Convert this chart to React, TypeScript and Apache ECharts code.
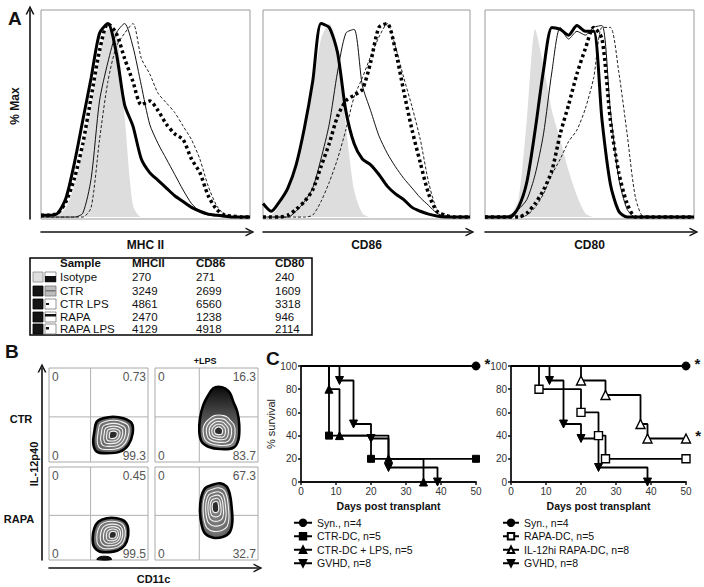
import React, { useEffect, useRef } from 'react';
import * as echarts from 'echarts';

const FONT = '"Liberation Sans", Arial, Helvetica, sans-serif';

// ---------------- Panel A: flow histograms ----------------
const histMarkers = ['MHC II', 'CD86', 'CD80'];
const histSamples = ['Isotype', 'CTR', 'CTR LPS', 'RAPA', 'RAPA LPS'];
const histChannel = [0, 4, 8, 12, 16, 20, 24, 28, 32, 36, 40, 44, 48, 52, 56, 60, 64, 68, 72, 76, 80, 84, 88, 92, 96, 100];

const mhcIsotype = [0, 0, 1, 5, 16, 35, 58, 82, 97, 96, 52, 6, 0, 0, 0, 0, 0, 0, 0, 0, 0, 0, 0, 0, 0, 0];
const mhcCtr = [0, 0, 0, 0, 0, 2, 20, 60, 80, 95, 100, 88, 68, 48, 38, 30, 22, 14, 7, 3, 1, 0.5, 0, 0, 0, 0];
const mhcCtrLps = [1, 1, 2, 8, 20, 38, 62, 86, 100, 95, 82, 70, 58, 60, 55, 48, 43, 40, 30, 23, 11, 4, 1, 0.5, 0, 0];
const mhcRapa = [1, 1, 2, 10, 28, 50, 72, 95, 100, 85, 58, 47, 30, 23, 19, 15, 11, 8, 5, 3, 1.5, 1, 0.5, 0, 0, 0];
const mhcRapaLps = [0, 0, 0, 0, 0, 0, 5, 40, 70, 88, 95, 100, 82, 74, 64, 59, 54, 47, 40, 30, 16, 6, 1, 0, 0, 0];

const cd86Isotype = [0, 1, 6, 14, 27, 45, 66, 92, 100, 88, 48, 14, 2, 0, 0, 0, 0, 0, 0, 0, 0, 0, 0, 0, 0, 0];
const cd86Ctr = [0, 0, 0, 0, 3, 8, 15, 30, 48, 75, 95, 97, 68, 55, 42, 33, 26, 20, 15, 10, 6, 2, 0.5, 0, 0, 0];
const cd86CtrLps = [0, 0, 0, 1, 4, 8, 14, 26, 38, 52, 60, 63, 66, 80, 98, 100, 86, 65, 45, 28, 12, 3, 1, 0, 0, 0];
const cd86Rapa = [7, 3, 8, 15, 27, 46, 70, 100, 98, 85, 55, 38, 30, 27, 22, 16, 12, 9, 5, 3, 1.5, 0.5, 0, 0, 0, 0];
const cd86RapaLps = [0, 0, 0, 0, 0, 0, 1, 8, 18, 30, 45, 62, 72, 83, 93, 100, 88, 72, 57, 40, 18, 4, 1, 0, 0, 0];

const cd80Isotype = [0, 0, 0, 1, 9, 50, 97, 78, 55, 40, 24, 11, 2, 0, 0, 0, 0, 0, 0, 0, 0, 0, 0, 0, 0, 0];
const cd80Ctr = [0, 0, 0, 1, 4, 9, 22, 43, 75, 98, 92, 96, 94, 98, 99, 55, 20, 4, 0, 0, 0, 0, 0, 0, 0, 0];
const cd80CtrLps = [0, 0, 0, 0, 0, 2, 7, 14, 24, 43, 58, 74, 87, 98, 92, 50, 23, 7, 0, 0, 0, 0, 0, 0, 0, 0];
const cd80Rapa = [0, 0, 0, 0, 5, 18, 45, 76, 98, 97, 94, 99, 96, 96, 50, 17, 3, 0, 0, 0, 0, 0, 0, 0, 0, 0];
const cd80RapaLps = [0, 0, 0, 0, 0, 1, 5, 12, 22, 30, 39, 45, 56, 72, 98, 98, 75, 43, 10, 0, 0, 0, 0, 0, 0, 0];

const histPanels = [
  [mhcIsotype, mhcCtr, mhcCtrLps, mhcRapa, mhcRapaLps],
  [cd86Isotype, cd86Ctr, cd86CtrLps, cd86Rapa, cd86RapaLps],
  [cd80Isotype, cd80Ctr, cd80CtrLps, cd80Rapa, cd80RapaLps],
];

// MFI table
const mfiMHCII = [270, 3249, 4861, 2470, 4129];
const mfiCD86 = [271, 2699, 6560, 1238, 4918];
const mfiCD80 = [240, 1609, 3318, 946, 2114];

// ---------------- Panel B: IL-12p40 vs CD11c contour plots ----------------
const bRowLabels = ['CTR', 'RAPA'];
const quadCtr = ['0', '0.73', '0', '99.3'];
const quadCtrLps = ['0', '16.3', '0', '83.7'];
const quadRapa = ['0', '0.45', '0', '99.5'];
const quadRapaLps = ['0', '67.3', '0', '32.7'];
const gateX = [42, 43, 42, 43];
const gateY = [48, 48, 48, 48];
const blobCtr = [[45.8, 32.2], [48.2, 42.9], [54.8, 46.5], [64.9, 48.2], [75, 46.5], [83.5, 41.2], [84.5, 30.5], [80.1, 18.1], [71.7, 11], [58.3, 9.3], [48.2, 11], [44.7, 19.9]];
const blobCtrLps = [[61.5, 80.1], [56.6, 78.4], [51.8, 71.3], [46.9, 60.6], [43.7, 46.5], [43, 32.2], [45.3, 21.6], [51.8, 16.3], [63.1, 13.8], [76, 15.2], [80.9, 23.4], [81.8, 39.4], [79.9, 53.5], [76, 64.2], [72.8, 73.1], [68, 78.4]];
const blobRapa = [[45.8, 34.1], [49.8, 41.2], [58.3, 44.9], [68.4, 44.9], [76.8, 41.2], [80.1, 32.3], [78.5, 19.7], [73.4, 12.6], [65, 9], [51.5, 9], [45.5, 14.3], [44.1, 23.3]];
const blobRapaTail = [[48.5, 0.5], [51, 3.2], [57, 4], [62, 2.6], [63, 0.4]];
const blobRapaLps = [[55, 80.6], [48.5, 77], [44.7, 66.3], [43.7, 51.9], [45.3, 37.6], [48.5, 28.7], [56.6, 24], [66.3, 25.1], [72.8, 30.4], [75.1, 41.2], [74.5, 55.6], [72.8, 69.9], [69.6, 78.8], [63.1, 82.5]];
const blobCenters = [[65, 29], [61.5, 33], [65, 27], [58.5, 58]];

// ---------------- Panel C: survival ----------------
const synDays = [0, 50];
const synSurv = [100, 100];
const ctrDcDays = [0, 8, 20, 50];
const ctrDcSurv = [100, 40, 20, 20];
const ctrLpsDays = [0, 8, 11, 25, 35];
const ctrLpsSurv = [100, 80, 40, 20, 0];
const gvhdDays = [0, 11, 15, 20, 25, 39];
const gvhdSurv = [100, 87.5, 50, 37.5, 12.5, 0];
const rapaDcDays = [0, 8, 20, 25, 27, 50];
const rapaDcSurv = [100, 80, 60, 40, 20, 20];
const il12Days = [0, 20, 27, 37, 39, 50];
const il12Surv = [100, 87.5, 75, 50, 37.5, 37.5];
const legendLeft = ['Syn., n=4', 'CTR-DC, n=5', 'CTR-DC + LPS, n=5', 'GVHD, n=8'];
const legendRight = ['Syn., n=4', 'RAPA-DC, n=5', 'IL-12hi RAPA-DC, n=8', 'GVHD, n=8'];

const arrowPath = 'path://M0,10 L5,0 L10,10 L8.2,10 L5,3.6 L1.8,10 Z';

function buildOption() {
  const grid: any[] = [
    { left: 41, top: 10, width: 209, height: 209, show: true, borderColor: '#9a9a9a', borderWidth: 1 },
    { left: 263, top: 10, width: 207, height: 209, show: true, borderColor: '#9a9a9a', borderWidth: 1 },
    { left: 485, top: 10, width: 209, height: 209, show: true, borderColor: '#9a9a9a', borderWidth: 1 },
    { left: 49, top: 368, width: 99, height: 94, show: true, borderColor: '#a8a8a8', borderWidth: 1 },
    { left: 155, top: 368, width: 103, height: 94, show: true, borderColor: '#a8a8a8', borderWidth: 1 },
    { left: 49, top: 467, width: 99, height: 93, show: true, borderColor: '#a8a8a8', borderWidth: 1 },
    { left: 155, top: 467, width: 103, height: 93, show: true, borderColor: '#a8a8a8', borderWidth: 1 },
    { left: 301, top: 366, width: 175, height: 116 },
    { left: 511, top: 366, width: 175, height: 116 },
    { left: 49, top: 368, width: 209, height: 192 },
  ];
  const hidden = { axisLine: { show: false }, axisTick: { show: false }, axisLabel: { show: false }, splitLine: { show: false } };
  const arrowLine = { show: true, onZero: false, symbol: ['none', arrowPath], symbolSize: [9, 9], lineStyle: { color: '#111', width: 1.6 } };
  const boldName = { fontFamily: FONT, fontWeight: 'bold', fontSize: 12, color: '#111' };

  const xAxis: any[] = [];
  const yAxis: any[] = [];
  for (let i = 0; i < 3; i++) {
    xAxis.push({ gridIndex: i, type: 'value', min: 0, max: 100, offset: 13, ...hidden, axisLine: arrowLine, name: histMarkers[i], nameLocation: 'middle', nameGap: 7, nameTextStyle: boldName });
    yAxis.push({ gridIndex: i, type: 'value', min: -1, max: 107, offset: 11, ...hidden, axisLine: i === 0 ? arrowLine : { show: false } });
  }
  for (let i = 3; i < 7; i++) {
    xAxis.push({ gridIndex: i, type: 'value', min: 0, max: 100, ...hidden });
    yAxis.push({ gridIndex: i, type: 'value', min: 0, max: 100, ...hidden });
  }
  const cAxisLine = { show: true, onZero: false, lineStyle: { color: '#111', width: 1.8 } };
  const cTick = { show: true, length: 3, lineStyle: { color: '#111', width: 1.5 } };
  const cLabel = { fontFamily: FONT, fontSize: 10, color: '#333', margin: 4 };
  for (let i = 7; i < 9; i++) {
    xAxis.push({ gridIndex: i, type: 'value', min: 0, max: 50, interval: 10, axisLine: cAxisLine, axisTick: cTick, axisLabel: cLabel, splitLine: { show: false }, name: 'Days post transplant', nameLocation: 'middle', nameGap: 18, nameTextStyle: { ...boldName, fontSize: 10.5 } });
    yAxis.push({ gridIndex: i, type: 'value', min: 0, max: 100, interval: 20, axisLine: cAxisLine, axisTick: cTick, axisLabel: cLabel, splitLine: { show: false }, name: i === 7 ? '% survival' : '', nameLocation: 'middle', nameGap: 21, nameTextStyle: { fontFamily: FONT, fontSize: 11, color: '#222' } });
  }
  xAxis.push({ gridIndex: 9, type: 'value', min: 0, max: 100, offset: 8, ...hidden, axisLine: arrowLine, name: 'CD11c', nameLocation: 'middle', nameGap: 5, nameTextStyle: { ...boldName, fontSize: 11 } });
  yAxis.push({ gridIndex: 9, type: 'value', min: 0, max: 100, offset: 7, ...hidden, axisLine: arrowLine, name: 'IL-12p40', nameLocation: 'middle', nameGap: 3, nameTextStyle: { ...boldName, fontSize: 11 } });

  const series: any[] = [];
  const histStyles: any[] = [
    { lineStyle: { width: 0 }, areaStyle: { color: '#dddddd', opacity: 1 }, z: 1 },
    { lineStyle: { color: '#111', width: 1 }, z: 3 },
    { lineStyle: { color: '#000', width: 3.5, type: [3, 3] }, z: 4 },
    { lineStyle: { color: '#000', width: 3 }, z: 5 },
    { lineStyle: { color: '#222', width: 1, type: [3, 2] }, z: 3 },
  ];
  histPanels.forEach((panel, gi) => {
    panel.forEach((ys, si) => {
      series.push({
        name: histMarkers[gi] + ' ' + histSamples[si], type: 'line', xAxisIndex: gi, yAxisIndex: gi,
        showSymbol: false, smooth: 0.25, data: histChannel.map((x, k) => [x, ys[k]]),
        ...histStyles[si],
      });
    });
  });

  const quads = [quadCtr, quadCtrLps, quadRapa, quadRapaLps];
  const blobs = [blobCtr, blobCtrLps, blobRapa, blobRapaLps];
  const upSquash = [1, 0.45, 1, 1];
  blobs.forEach((outline, bi) => {
    series.push({
      type: 'custom', xAxisIndex: 3 + bi, yAxisIndex: 3 + bi, data: [[0, 0]], silent: true,
      renderItem: (params: any, api: any) => {
        const children: any[] = [];
        const g0 = api.coord([gateX[bi], 0]);
        const g1 = api.coord([gateX[bi], 100]);
        const h0 = api.coord([0, gateY[bi]]);
        const h1 = api.coord([100, gateY[bi]]);
        children.push({ type: 'line', shape: { x1: g0[0], y1: g0[1], x2: g1[0], y2: g1[1] }, style: { stroke: '#b0b0b0', lineWidth: 1 } });
        children.push({ type: 'line', shape: { x1: h0[0], y1: h0[1], x2: h1[0], y2: h1[1] }, style: { stroke: '#b0b0b0', lineWidth: 1 } });
        const pts = outline.map((p) => api.coord(p));
        const c = api.coord(blobCenters[bi]);
        const scales = [1, 0.8, 0.63, 0.48, 0.34, 0.2];
        scales.forEach((s, i) => {
          const ring = pts.map((p: number[]) => {
            const dx = (p[0] - c[0]) * s;
            let dy = (p[1] - c[1]) * s;
            if (i > 0 && dy < 0) dy *= upSquash[bi];
            return [c[0] + dx, c[1] + dy];
          });
          let fill: any;
          if (i === 0) {
            fill = bi === 1
              ? new echarts.graphic.LinearGradient(0, 0, 0, 1, [{ offset: 0, color: '#0a0a0a' }, { offset: 0.4, color: '#444' }, { offset: 1, color: '#8a8a8a' }])
              : new echarts.graphic.RadialGradient(0.5, 0.5, 0.6, [{ offset: 0, color: '#c4c4c4' }, { offset: 1, color: '#505050' }]);
          } else if (i === scales.length - 1) {
            fill = '#2a2a2a';
          } else {
            fill = new echarts.graphic.RadialGradient(0.5, 0.5, 0.6, [{ offset: 0, color: '#bdbdbd' }, { offset: 1, color: '#5e5e5e' }]);
          }
          children.push({ type: 'polygon', shape: { points: ring, smooth: 0.35 }, style: { fill, stroke: i === 0 ? '#000' : '#f2f2f2', lineWidth: i === 0 ? 2.6 : 1.1 } });
        });
        if (bi === 2) {
          children.push({ type: 'polygon', shape: { points: blobRapaTail.map((p) => api.coord(p)), smooth: 0.4 }, style: { fill: '#111', stroke: '#000', lineWidth: 1 } });
        }
        const tl = api.coord([0, 100]);
        const br = api.coord([100, 0]);
        const q = quads[bi];
        const ts = { font: '12px ' + FONT, fill: '#555', verticalAlign: 'middle' };
        children.push({ type: 'text', x: tl[0] + 3, y: tl[1] + 9, style: { ...ts, text: q[0], align: 'left' } });
        children.push({ type: 'text', x: br[0] - 2, y: tl[1] + 9, style: { ...ts, text: q[1], align: 'right' } });
        children.push({ type: 'text', x: tl[0] + 3, y: br[1] - 6, style: { ...ts, text: q[2], align: 'left' } });
        children.push({ type: 'text', x: br[0] - 2, y: br[1] - 6, style: { ...ts, text: q[3], align: 'right' } });
        return { type: 'group', children };
      },
    });
  });

  const star = { show: true, formatter: '*', position: 'right', distance: 4, fontSize: 15, fontWeight: 'bold', color: '#111', offset: [0, -3] };
  const km = (days: number[], surv: number[], starLast = false) =>
    days.map((d, i) => {
      const item: any = { value: [d, surv[i]] };
      if (i === 0) item.symbol = 'none';
      if (starLast && i === days.length - 1) item.label = star;
      return item;
    });
  const line = { color: '#000', width: 1.8 };
  const filled = { color: '#000', borderColor: '#000', borderWidth: 1 };
  const open = { color: '#fff', borderColor: '#000', borderWidth: 1.4 };
  const kmSeries = (name: string, gi: number, days: number[], surv: number[], symbol: string, itemStyle: any, opts: any = {}) => ({
    name, type: 'line', xAxisIndex: gi, yAxisIndex: gi, step: 'end', symbol, symbolSize: 7,
    data: km(days, surv, !!opts.star), lineStyle: line, itemStyle, z: 5, ...(opts.extra || {}),
  });
  series.push(kmSeries('Syn., n=4', 7, synDays, synSurv, 'circle', filled, { star: true, extra: { symbolSize: 8 } }));
  series.push(kmSeries('CTR-DC, n=5', 7, ctrDcDays, ctrDcSurv, 'rect', filled));
  series.push(kmSeries('CTR-DC + LPS, n=5', 7, ctrLpsDays, ctrLpsSurv, 'triangle', filled, { extra: { symbolSize: 8 } }));
  series.push(kmSeries('GVHD, n=8', 7, gvhdDays, gvhdSurv, 'triangle', filled, { extra: { symbolRotate: 180, symbolSize: 8 } }));
  series.push(kmSeries('Syn., n=4', 8, synDays, synSurv, 'circle', filled, { star: true, extra: { symbolSize: 8 } }));
  series.push(kmSeries('RAPA-DC, n=5', 8, rapaDcDays, rapaDcSurv, 'rect', open, { extra: { symbolSize: 8 } }));
  series.push(kmSeries('IL-12hi RAPA-DC, n=8', 8, il12Days, il12Surv, 'triangle', open, { star: true, extra: { symbolSize: 9 } }));
  series.push(kmSeries('GVHD, n=8', 8, gvhdDays, gvhdSurv, 'triangle', filled, { extra: { symbolRotate: 180, symbolSize: 8 } }));

  const legendText = { fontFamily: FONT, fontSize: 10.5, color: '#111', lineHeight: 13.5 };
  const legend = [
    { left: 293, top: 516, orient: 'vertical', padding: 0, itemGap: 0, itemWidth: 18, itemHeight: 8, selectedMode: false, textStyle: legendText, data: legendLeft },
    { left: 502, top: 516, orient: 'vertical', padding: 0, itemGap: 0, itemWidth: 16, itemHeight: 8, selectedMode: false, textStyle: legendText, data: legendRight },
  ];

  const graphic: any[] = [];
  const letter = (t: string, x: number, y: number) => ({ type: 'text', x, y, style: { text: t, font: 'bold 19px ' + FONT, fill: '#111' } });
  graphic.push(letter('A', 8, 9), letter('B', 5, 342), letter('C', 266, 349));
  graphic.push({ type: 'text', x: 15, y: 106, rotation: Math.PI / 2, style: { text: '% Max', font: 'bold 12px ' + FONT, fill: '#111', align: 'center', verticalAlign: 'middle' } });
  graphic.push({ type: 'text', x: 21, y: 419, style: { text: bRowLabels[0], font: 'bold 11px ' + FONT, fill: '#111', align: 'center', verticalAlign: 'middle' } });
  graphic.push({ type: 'text', x: 19, y: 519, style: { text: bRowLabels[1], font: 'bold 11px ' + FONT, fill: '#111', align: 'center', verticalAlign: 'middle' } });
  graphic.push({ type: 'text', x: 205, y: 361, style: { text: '+LPS', font: 'bold 9px ' + FONT, fill: '#111', align: 'center', verticalAlign: 'middle' } });

  graphic.push({ type: 'rect', shape: { x: 30, y: 258, width: 282, height: 77 }, style: { fill: 'none', stroke: '#000', lineWidth: 1.5 } });
  const colX = [60, 132, 196, 275];
  const headerY = 263;
  const rowY = [277, 291, 304, 317, 329];
  ['Sample', 'MHCII', 'CD86', 'CD80'].forEach((h, i) => {
    graphic.push({ type: 'text', x: colX[i], y: headerY, style: { text: h, font: 'bold 11.5px ' + FONT, fill: '#111', verticalAlign: 'middle' } });
  });
  histSamples.forEach((s, r) => {
    const y = rowY[r];
    const vals = [s, String(mfiMHCII[r]), String(mfiCD86[r]), String(mfiCD80[r])];
    vals.forEach((v, i) => graphic.push({ type: 'text', x: colX[i], y, style: { text: v, font: '11.5px ' + FONT, fill: '#111', verticalAlign: 'middle' } }));
    const top = y - 5;
    graphic.push({ type: 'rect', shape: { x: 33, y: top, width: 10, height: 10 }, style: { fill: r === 0 ? '#dedede' : '#151515', stroke: r === 0 ? '#8a8a8a' : '#000', lineWidth: 0.8 } });
    graphic.push({ type: 'rect', shape: { x: 45, y: top, width: 11, height: 10 }, style: { fill: r === 1 ? '#bdbdbd' : '#fff', stroke: '#7a7a7a', lineWidth: 0.8 } });
    if (r === 0) graphic.push({ type: 'rect', shape: { x: 45, y: top + 4, width: 11, height: 6 }, style: { fill: '#111' } });
    if (r === 1) graphic.push({ type: 'rect', shape: { x: 45.5, y: top + 4, width: 10, height: 1.5 }, style: { fill: '#777' } });
    if (r === 2) graphic.push({ type: 'rect', shape: { x: 46, y: top + 4, width: 3, height: 2 }, style: { fill: '#111' } });
    if (r === 3) graphic.push({ type: 'rect', shape: { x: 45, y: top + 2, width: 11, height: 2.5 }, style: { fill: '#111' } });
    if (r === 4) graphic.push({ type: 'rect', shape: { x: 46, y: top + 3, width: 3, height: 2.5 }, style: { fill: '#111' } });
  });

  return { animation: false, backgroundColor: '#fff', grid, xAxis, yAxis, series, legend, graphic };
}

export default function App() {
  const ref = useRef<HTMLDivElement>(null);
  useEffect(() => {
    if (!ref.current) return;
    const chart = echarts.init(ref.current, undefined, { renderer: 'svg' });
    chart.setOption(buildOption() as any);
    return () => chart.dispose();
  }, []);
  return <div ref={ref} style={{ position: 'fixed', left: 0, top: 0, width: 704, height: 587, background: '#fff' }} />;
}
